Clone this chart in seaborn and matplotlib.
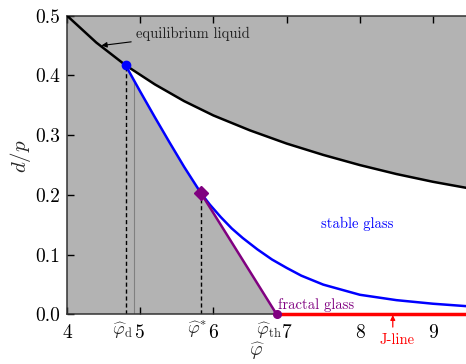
import numpy as np
import seaborn as sns
import matplotlib.pyplot as plt
import matplotlib.transforms as mtransforms

sns.set_theme(style="ticks")
plt.rcParams["font.family"] = ["serif"]
plt.rcParams["font.serif"] = ["cmr10", "DejaVu Serif"]
plt.rcParams["mathtext.fontset"] = "cm"
plt.rcParams["axes.formatter.use_mathtext"] = True

# equilibrium liquid line
liq_x = [4.0, 4.4, 4.8, 5.2, 5.6, 6.0, 6.5, 7.0, 7.5, 8.0, 8.5, 9.0, 9.45]
liq_y = [0.500, 0.455, 0.417, 0.385, 0.357, 0.333, 0.308, 0.286, 0.267, 0.250, 0.235, 0.222, 0.212]

# stable glass boundary (blue)
gl_x = [4.80, 5.00, 5.20, 5.40, 5.60, 5.72, 5.83, 5.95, 6.10, 6.25, 6.40, 6.60,
        6.80, 7.00, 7.20, 7.50, 8.00, 8.50, 9.00, 9.45]
gl_y = [0.417, 0.373, 0.330, 0.288, 0.247, 0.224, 0.203, 0.184, 0.163, 0.144, 0.128, 0.109,
        0.092, 0.078, 0.065, 0.050, 0.033, 0.024, 0.018, 0.014]

# special points
phi_d, y_d = 4.80, 0.417
phi_star, y_star = 5.83, 0.203
phi_th = 6.865
phi_gray, y_gray = 4.92, 0.391
x_max = 9.45

tick_vals = [4, 5, 6, 7, 8, 9]
y_ticks = [0.0, 0.1, 0.2, 0.3, 0.4, 0.5]
phi_labels = [r"$\widehat{\varphi}_{\rm d}$", r"$\widehat{\varphi}^{*}$",
              r"$\widehat{\varphi}_{\rm th}$"]

fig = plt.figure(figsize=(4.66, 3.64), dpi=100)
ax = fig.add_axes([0.1438, 0.136, 0.8562, 0.821])
ax.set_xlim(4, x_max)
ax.set_ylim(0, 0.5)
ax.set_facecolor("#b3b3b3")

# white region between liquid line and the glass boundary
lx = np.array(liq_x)
ly = np.array(liq_y)
keep = lx >= phi_d
poly_x = list(lx[keep]) + [x_max, phi_th, phi_star]
poly_y = list(ly[keep]) + [0.0, 0.0, y_star]
gx = np.array(gl_x)
gy = np.array(gl_y)
m = gx <= phi_star
poly_x += list(gx[m][::-1])
poly_y += list(gy[m][::-1])
ax.fill(poly_x, poly_y, color="white", lw=0, zorder=1)

# vertical guide lines
ax.plot([phi_d, phi_d], [0, y_d], color="black", lw=1, ls=(0, (3, 2)), zorder=2)
ax.plot([phi_star, phi_star], [0, y_star], color="black", lw=1, ls=(0, (3, 2)), zorder=2)
ax.plot([phi_gray, phi_gray], [0, y_gray], color="#808080", lw=0.8, zorder=2)

sns.lineplot(x=liq_x, y=liq_y, ax=ax, color="black", lw=1.8, zorder=3)
sns.lineplot(x=gl_x, y=gl_y, ax=ax, color="blue", lw=1.8, zorder=3)
sns.lineplot(x=[phi_star, phi_th], y=[y_star, 0.0], ax=ax, color="purple", lw=1.8, zorder=3)
ax.plot([phi_th, x_max], [0, 0], color="red", lw=2.5, zorder=4, clip_on=False)

ax.plot([phi_d], [y_d], "o", color="blue", ms=6, zorder=5)
ax.plot([phi_star], [y_star], "D", color="purple", ms=7, zorder=5)
ax.plot([phi_th], [0], "o", color="purple", ms=5.5, zorder=5, clip_on=False)

# labels in the plot
ax.annotate("equilibrium liquid", xy=(4.47, 0.450), xytext=(4.94, 0.469),
            fontsize=10.5, va="center", ha="left", color="#222222",
            arrowprops=dict(arrowstyle="-|>", color="black", lw=0.8,
                            mutation_scale=8, shrinkA=1, shrinkB=0))
ax.text(7.97, 0.151, "stable glass", color="blue", fontsize=10.5, ha="center", va="center")
ax.text(6.88, 0.004, "fractal glass", color="purple", fontsize=10.5, ha="left", va="bottom")
ax.annotate("", xy=(8.45, -0.001), xytext=(8.45, -0.021), annotation_clip=False,
            arrowprops=dict(arrowstyle="-|>", color="red", lw=0.9,
                            mutation_scale=7, shrinkA=0, shrinkB=0))
ax.text(8.51, -0.043, "J-line", fontsize=10.5, color="red", ha="center", va="center",
        clip_on=False)

# ticks
ax.set_xticks(tick_vals)
ax.set_xticklabels([str(t) for t in tick_vals])
ax.set_xticks([phi_d, phi_star, phi_th], minor=True)
ax.set_xticklabels(phi_labels, minor=True)
ax.set_yticks(y_ticks)
ax.set_yticklabels([f"{v:.1f}" for v in y_ticks])
ax.tick_params(axis="both", which="major", direction="in", length=5, width=1,
               labelsize=14, colors="black", pad=5)
ax.tick_params(axis="x", which="major", top=True, pad=7)
ax.tick_params(axis="x", which="minor", length=0, labelsize=13, pad=4)

# the phi labels sit a little left of their marks
for lab, dx in zip(ax.get_xticklabels(minor=True), [-3, -4, -7.5]):
    lab.set_transform(lab.get_transform() +
                      mtransforms.ScaledTranslation(dx / 100, 0, fig.dpi_scale_trans))

for s in ["left", "bottom", "top"]:
    ax.spines[s].set_linewidth(1.1)
    ax.spines[s].set_color("#333333")
ax.spines["right"].set_visible(False)

ax.set_xlabel(r"$\widehat{\varphi}$", fontsize=14)
ax.xaxis.set_label_coords(0.476, -0.085)
ax.set_ylabel(r"$d/p$", fontsize=15)
ax.yaxis.set_label_coords(-0.085, 0.53)

fig.savefig("out.png", dpi=100)
